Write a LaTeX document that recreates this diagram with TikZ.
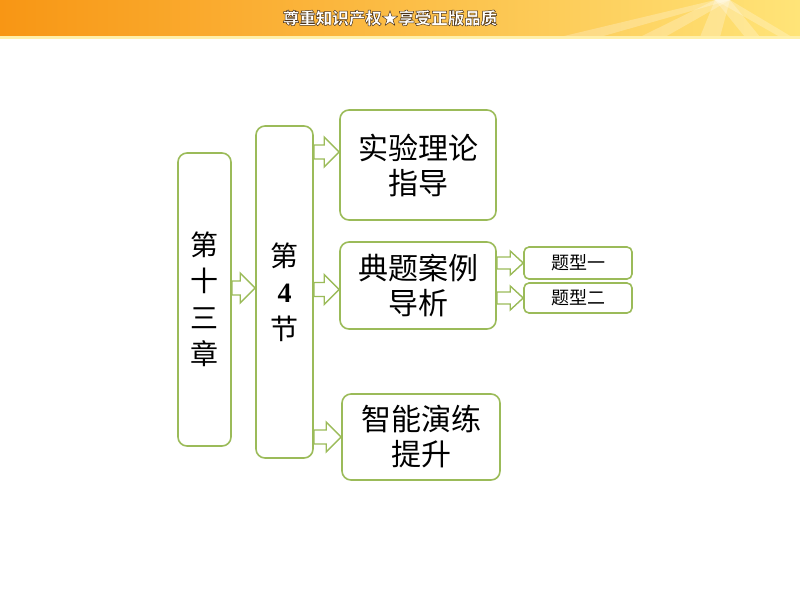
\documentclass[tikz,border=0pt]{standalone}
\usepackage{fontspec}
\setmainfont{Liberation Serif}
\newfontfamily\cjk{Noto Sans CJK SC}
\newfontfamily\cjkol{Noto Sans CJK SC}[BoldFeatures={FakeBold=3}]
\usetikzlibrary{calc}
\definecolor{grn}{RGB}{155,187,89}
\definecolor{orgA}{RGB}{248,150,20}
\definecolor{ylwA}{RGB}{255,205,40}
\definecolor{ylwB}{RGB}{255,228,120}
\definecolor{ylwC}{RGB}{255,240,170}

\begin{document}
\begin{tikzpicture}[x=1pt,y=-1pt,
  box/.style={draw=grn,line width=1.6pt,rounded corners=9pt,fill=white,align=center,inner sep=0pt},
  bigtxt/.style={font=\cjk\fontsize{30}{35}\selectfont},
  coltxt/.style={font=\cjk\fontsize{28}{36.5}\selectfont},
  smalltxt/.style={font=\cjk\fontsize{18}{20}\selectfont},
  blockarr/.style n args={3}{draw=grn,line width=1.4pt,fill=white,
    to path={($(\tikztotarget -| \tikztostart)+(0,#1)$) -- ($(\tikztotarget)+(-#3,#1)$)
      -- ($(\tikztotarget)+(-#3,#2)$) -- (\tikztotarget) -- ($(\tikztotarget)+(-#3,-#2)$)
      -- ($(\tikztotarget)+(-#3,-#1)$) -- ($(\tikztotarget -| \tikztostart)+(0,-#1)$) -- cycle}},
  bigarr/.style={blockarr={7}{15}{15}},
  smallarr/.style={blockarr={6}{12}{13}}]
\useasboundingbox (0,0) rectangle (800,600);

% banner
\shade[left color=orgA,middle color=ylwA,right color=ylwB] (0,0) rectangle (800,37);
\foreach \a/\b in {560/600,640/665,700/720,745/760,780/792}
  \fill[white,opacity=0.25] (\a,37) -- (\b,37) -- (730,0) -- (715,0) -- cycle;
\fill[ylwC] (0,36) rectangle (800,39);
\node[font=\cjkol\bfseries\fontsize{16.5}{16.5}\selectfont] (slogan) at (390,18)
  {\special{pdf:bcolor [1 1 1] [0.3 0.2 0.1]}尊重知识产权★享受正版品质\special{pdf:ecolor}};

% boxes
\node[box,coltxt,minimum width=53,minimum height=293] (b1) at (204.5,299.5) {第\\十\\三\\章};
\node[box,coltxt,minimum width=57,minimum height=332] (b2) at (284.5,292) {第\\{\rmfamily\bfseries 4}\\节};
\node[box,bigtxt,minimum width=156,minimum height=110] (b3) at (418,165) {实验理论\\指导};
\node[box,bigtxt,minimum width=156,minimum height=87] (b4) at (418,285.5) {典题案例\\导析};
\node[box,bigtxt,minimum width=158,minimum height=86] (b5) at (421,437) {智能演练\\提升};
\node[box,smalltxt,rounded corners=5pt,minimum width=108,minimum height=32] (s1) at (578,263) {题型一};
\node[box,smalltxt,rounded corners=5pt,minimum width=108,minimum height=30] (s2) at (578,298) {题型二};

% arrows
\draw[bigarr] (b1.east) to ([yshift=4pt]b2.west);
\draw[bigarr] (b2.east) to ([yshift=13pt]b3.west);
\draw[bigarr] (b2.east) to ([yshift=-4pt]b4.west);
\draw[bigarr] (b2.east) to (b5.west);
\draw[smallarr] (b4.east) to (s1.west);
\draw[smallarr] (b4.east) to (s2.west);
\end{tikzpicture}
\end{document}
